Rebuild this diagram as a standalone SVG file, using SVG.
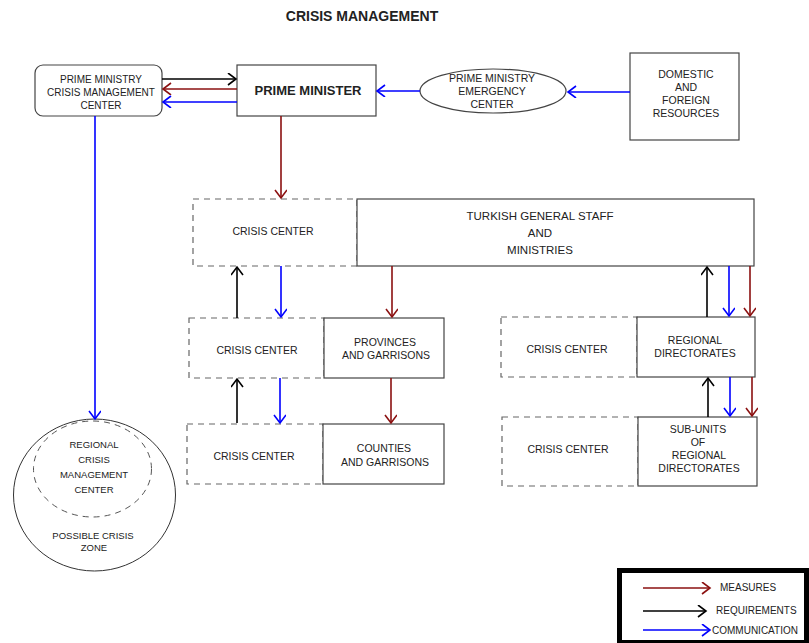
<svg xmlns="http://www.w3.org/2000/svg" width="809" height="643" viewBox="0 0 809 643">
<style>
text{font-family:"Liberation Sans",Arial,sans-serif;font-size:10.5px;fill:#222;text-anchor:middle;dominant-baseline:central}
.box{fill:#fff;stroke:#444;stroke-width:1.2}
.dash{fill:none;stroke:#666;stroke-width:1.2;stroke-dasharray:6,5}
.r{stroke:#8b1010;stroke-width:1.6;fill:none}
.k{stroke:#000;stroke-width:1.6;fill:none}
.b{stroke:#0000ff;stroke-width:1.6;fill:none}
.r{marker-end:url(#mr)}.k{marker-end:url(#mk)}.b{marker-end:url(#mb)}
.sm{font-size:9.5px}
.t{font-size:11.5px}
</style>
<defs>
<marker id="mr" markerUnits="userSpaceOnUse" markerWidth="12" markerHeight="14" refX="9" refY="6" orient="auto"><path d="M1,0 L9,6 L1,12" fill="none" stroke="#8b1010" stroke-width="1.6"/></marker>
<marker id="mk" markerUnits="userSpaceOnUse" markerWidth="12" markerHeight="14" refX="9" refY="6" orient="auto"><path d="M1,0 L9,6 L1,12" fill="none" stroke="#000" stroke-width="1.6"/></marker>
<marker id="mb" markerUnits="userSpaceOnUse" markerWidth="12" markerHeight="14" refX="9" refY="6" orient="auto"><path d="M1,0 L9,6 L1,12" fill="none" stroke="#0000ff" stroke-width="1.6"/></marker>
</defs>
<rect width="809" height="643" fill="#fff"/>
<text x="362" y="16" style="font-size:14px;font-weight:bold">CRISIS MANAGEMENT</text>

<g id="pmcmc"><rect class="box" x="35" y="65" width="127" height="51" rx="8"/>
<text x="101" y="79" style="font-size:10px">PRIME MINISTRY</text><text x="101" y="92" style="font-size:10px">CRISIS MANAGEMENT</text><text x="101" y="105" style="font-size:10px">CENTER</text></g>
<g id="pm"><rect class="box" x="237" y="65" width="139" height="51"/>
<text x="308" y="90" style="font-size:13px;font-weight:bold">PRIME MINISTER</text></g>
<g id="pmec"><ellipse cx="493" cy="91" rx="73" ry="22" fill="#fff" stroke="#444" stroke-width="1.2"/>
<text x="492" y="78">PRIME MINISTRY</text><text x="492" y="91">EMERGENCY</text><text x="492" y="104">CENTER</text></g>
<g id="dfr"><rect class="box" x="630" y="53" width="109" height="87"/>
<text x="686" y="74">DOMESTIC</text><text x="686" y="87">AND</text><text x="686" y="100">FOREIGN</text><text x="686" y="113">RESOURCES</text></g>

<g id="cc1"><rect class="dash" x="193" y="199" width="164" height="67"/><text x="273" y="231">CRISIS CENTER</text></g>
<g id="tgs"><rect class="box" x="357" y="199" width="397" height="67"/>
<text class="t" x="540" y="216">TURKISH GENERAL STAFF</text><text class="t" x="540" y="233">AND</text><text class="t" x="540" y="250">MINISTRIES</text></g>

<g id="cc2"><rect class="dash" x="189" y="318" width="135" height="60"/><text x="257" y="350">CRISIS CENTER</text></g>
<g id="prov"><rect class="box" x="324" y="318" width="120" height="60"/><text x="385" y="342">PROVINCES</text><text x="386" y="355">AND GARRISONS</text></g>
<g id="cc3"><rect class="dash" x="187" y="424" width="136" height="60"/><text x="254" y="456">CRISIS CENTER</text></g>
<g id="count"><rect class="box" x="323" y="424" width="121" height="60"/><text x="384" y="448">COUNTIES</text><text x="385" y="462">AND GARRISONS</text></g>

<g id="cc4"><rect class="dash" x="501" y="317" width="136" height="60"/><text x="567" y="349">CRISIS CENTER</text></g>
<g id="rd"><rect class="box" x="637" y="317" width="118" height="60"/><text x="695" y="340">REGIONAL</text><text x="695" y="353">DIRECTORATES</text></g>
<g id="cc5"><rect class="dash" x="502" y="417" width="136" height="69"/><text x="568" y="449">CRISIS CENTER</text></g>
<g id="sub"><rect class="box" x="638" y="417" width="119" height="69"/><text x="698" y="429">SUB-UNITS</text><text x="698" y="442">OF</text><text x="699" y="455">REGIONAL</text><text x="699" y="468">DIRECTORATES</text></g>

<g id="zone"><ellipse cx="94.5" cy="495" rx="81" ry="76" fill="#fff" stroke="#333" stroke-width="1"/>
<ellipse cx="92.5" cy="469" rx="59" ry="48" fill="none" stroke="#555" stroke-width="1" stroke-dasharray="6,5"/>
<text class="sm" x="94" y="444">REGIONAL</text><text class="sm" x="94" y="459">CRISIS</text><text class="sm" x="94" y="474">MANAGEMENT</text><text class="sm" x="94" y="489">CENTER</text>
<text class="sm" x="93" y="535">POSSIBLE CRISIS</text><text class="sm" x="94" y="547">ZONE</text></g>

<g id="connectors">
<line class="k" x1="162" y1="79" x2="236" y2="79"/>
<line class="r" x1="237" y1="89" x2="163" y2="89"/>
<line class="b" x1="237" y1="102" x2="163" y2="102"/>
<line class="b" x1="420" y1="91" x2="377" y2="91"/>
<line class="b" x1="630" y1="92" x2="568" y2="92"/>
<line class="b" x1="95" y1="116" x2="95" y2="419"/>
<line class="r" x1="281" y1="116" x2="281" y2="198"/>
<line class="k" x1="237" y1="318" x2="237" y2="267"/>
<line class="b" x1="281" y1="266" x2="281" y2="317"/>
<line class="r" x1="392" y1="266" x2="392" y2="317"/>
<line class="k" x1="237" y1="423" x2="237" y2="379"/>
<line class="b" x1="280" y1="378" x2="280" y2="423"/>
<line class="r" x1="391" y1="378" x2="391" y2="423"/>
<line class="k" x1="707" y1="317" x2="707" y2="267"/>
<line class="b" x1="729" y1="266" x2="729" y2="316"/>
<line class="r" x1="750" y1="266" x2="750" y2="316"/>
<line class="k" x1="708" y1="417" x2="708" y2="378"/>
<line class="b" x1="730" y1="377" x2="730" y2="416"/>
<line class="r" x1="752" y1="377" x2="752" y2="416"/>
</g>

<g id="legend">
<rect x="619.5" y="570.5" width="187" height="72" fill="#fff" stroke="#000" stroke-width="5"/>
<line class="r" x1="643" y1="588" x2="710" y2="588"/>
<line class="k" x1="643" y1="611" x2="706" y2="611"/>
<line class="b" x1="643" y1="630" x2="710" y2="630"/>
<text x="720" y="587" style="text-anchor:start;font-size:10px">MEASURES</text>
<text x="716" y="610" style="text-anchor:start;font-size:10px">REQUIREMENTS</text>
<text x="712" y="630" style="text-anchor:start;font-size:10px">COMMUNICATION</text>
</g>
</svg>
